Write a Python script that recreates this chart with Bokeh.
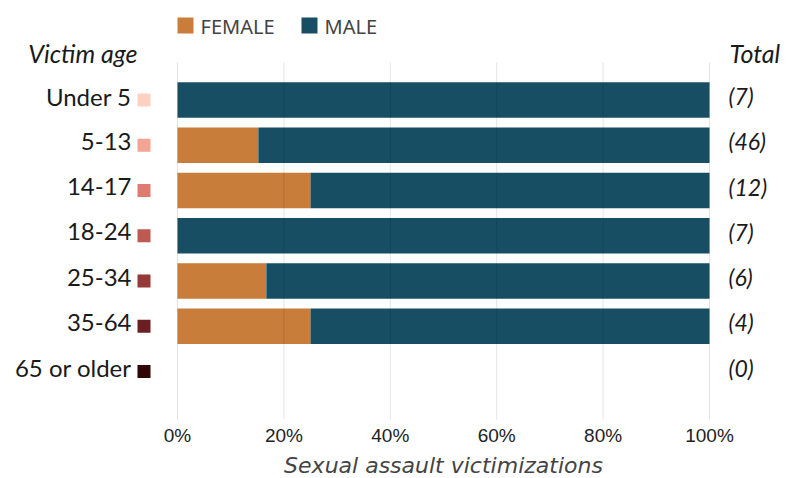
from bokeh.plotting import figure
from bokeh.models import Range1d
from bokeh.core.properties import value
from bokeh.embed import file_html
from bokeh.resources import INLINE

# ---- data ----
age_groups = ["Under 5", "5-13", "14-17", "18-24", "25-34", "35-64", "65 or older"]
female_share = [0.0, 0.152, 0.25, 0.0, 0.167, 0.25, 0.0]
totals = [7, 46, 12, 7, 6, 4, 0]
age_colors = ["#FDD0C0", "#F4A493", "#E07B72", "#BF5A52", "#943A38", "#6B1F20", "#2F0505"]
pct_ticks = [0.0, 0.2, 0.4, 0.6, 0.8, 1.0]
pct_labels = ["0%", "20%", "40%", "60%", "80%", "100%"]
series = ["FEMALE", "MALE"]
series_colors = ["#C97D3A", "#174E63"]

# ---- layout helpers (picture pixels -> data units) ----
W, H = 797, 478
X0, X1 = 177.0, 709.0          # picture x of 0% and 100%
ROW0, ROWSTEP = 99.5, 45.25    # picture y of first row and row spacing
TEXT_DY = -4.0 / ROWSTEP       # row labels sit slightly above bar centre

def px(x):
    return (x - X0) / (X1 - X0)

def py(y):
    return (y - ROW0) / ROWSTEP

p = figure(width=W, height=H, output_backend="svg", toolbar_location=None,
           x_axis_type=None, y_axis_type=None,
           x_range=Range1d(px(0), px(W)),
           y_range=Range1d(py(H), py(0)),
           min_border=0, min_border_left=0, min_border_right=0,
           min_border_top=0, min_border_bottom=0)
p.outline_line_color = None
p.background_fill_color = "white"
p.xgrid.visible = False
p.ygrid.visible = False

rows = list(range(len(age_groups)))
text_rows = [r + TEXT_DY for r in rows]
bar_rows = [r for r in rows if totals[r] > 0]
fem = [female_share[r] for r in bar_rows]
male_right = [1.0 for _ in bar_rows]

p.hbar(y=bar_rows, left=0, right=fem, height=0.785,
       fill_color=series_colors[0], line_color=None)
p.hbar(y=bar_rows, left=fem, right=male_right, height=0.785,
       fill_color=series_colors[1], line_color=None)

# grid lines drawn over bars
p.segment(x0=pct_ticks, x1=pct_ticks, y0=py(62), y1=py(419),
          line_color="black", line_alpha=0.11, line_width=1)

# y labels with colour keys
p.text(x=px(131), y=text_rows, text=age_groups, text_align="right", text_baseline="middle",
       text_font=value("Lato"), text_font_size="24px", text_color="#1a1a1a")
p.scatter(x=px(143.5), y=rows, marker="square", size=13, fill_color=age_colors, line_color=None)

# totals
p.text(x=px(728), y=text_rows, text=["(%d)" % t for t in totals], text_align="left",
       text_baseline="middle", text_font=value("Lato"), text_font_style="italic",
       text_font_size="23px", text_color="#1a1a1a")

# headers
p.text(x=[px(137)], y=[py(52)], text=["Victim age"], text_align="right", text_baseline="middle",
       text_font=value("Lato"), text_font_style="italic", text_font_size="25px", text_color="#1a1a1a")
p.text(x=[px(729)], y=[py(52)], text=["Total"], text_align="left", text_baseline="middle",
       text_font=value("Lato"), text_font_style="italic", text_font_size="25px", text_color="#1a1a1a")

# legend
p.scatter(x=[px(185), px(309)], y=py(25), marker="square", size=16,
          fill_color=series_colors, line_color=None)
p.text(x=[px(200), px(324)], y=py(26), text=series, text_align="left", text_baseline="middle",
       text_font=value("Noto Sans"), text_font_size="20px", text_color="#444444")

# x tick labels
p.text(x=pct_ticks, y=py(435), text=pct_labels, text_align="center", text_baseline="middle",
       text_font=value("Liberation Sans"), text_font_size="19px", text_color="#222222")

# axis title
p.text(x=[0.5], y=[py(465)], text=["Sexual assault victimizations"], text_align="center",
       text_baseline="middle", text_font=value("DejaVu Sans"), text_font_style="italic",
       text_font_size="22px", text_color="#444444")

open("out.html", "w").write(file_html(p, INLINE))
